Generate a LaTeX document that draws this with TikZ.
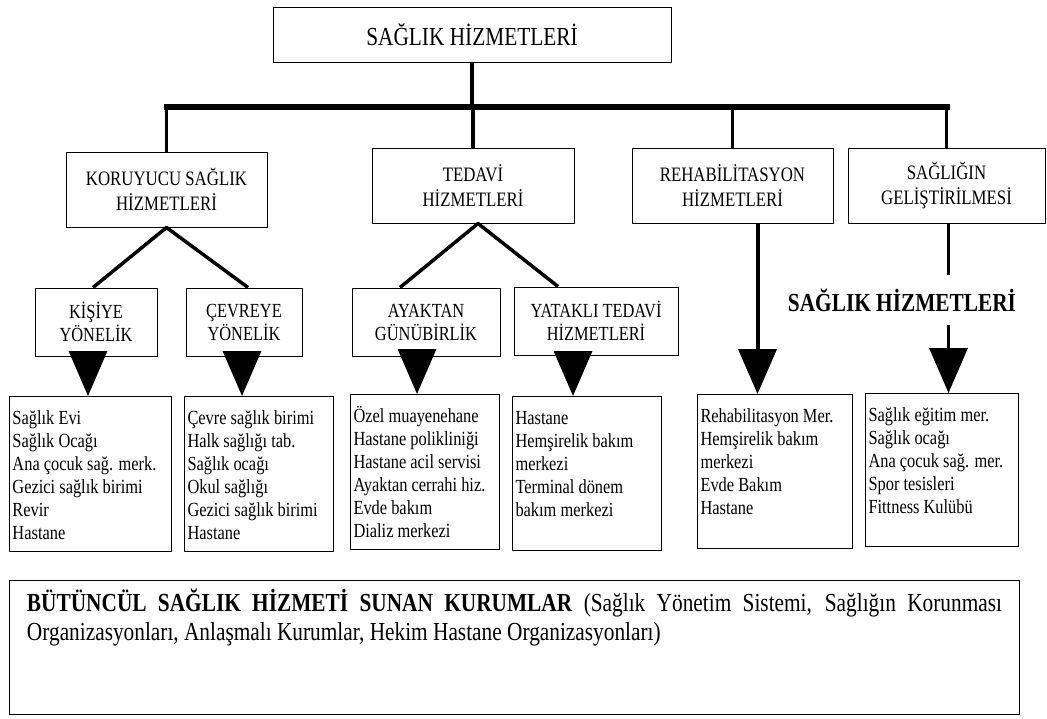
\documentclass[tikz,border=0pt]{standalone}
\usepackage{fontspec}
\setmainfont{Liberation Serif}[FakeStretch=0.82]
\usetikzlibrary{arrows.meta}

\begin{document}
\begin{tikzpicture}[x=1pt, y=1pt,
    box/.style={draw, line width=1pt, align=center, inner sep=0pt},
    topbox/.style={box, font=\fontsize{26}{30}\selectfont},
    onebox/.style={box, minimum height=75, font=\fontsize{20.5}{25}\selectfont},
    twobox/.style={box, minimum height=68, font=\fontsize{20}{23}\selectfont},
    lst/.style={draw, line width=1pt, anchor=north west, align=flush left, inner xsep=3pt,
        inner ysep=0pt, text height=28pt, font=\fontsize{20}{23}\selectfont},
    conn/.style={line width=3.5pt},
    tri/.style={line width=3.5pt, -{Triangle[width=38pt,length=45pt]}}]

    \useasboundingbox (0,0) rectangle (1047,-718);

    % Top box
    \node[topbox, minimum width=398, minimum height=55] (top) at (472,-34.5) {SAĞLIK HİZMETLERİ};

    % First level
    \node[onebox, minimum width=201] (koru) at (166.5,-189.5) {KORUYUCU SAĞLIK\\HİZMETLERİ};
    \node[onebox, minimum width=202] (tedavi) at (473,-185.5) {TEDAVİ\\HİZMETLERİ};
    \node[onebox, minimum width=201] (rehab) at (732.5,-185.5) {REHABİLİTASYON\\HİZMETLERİ};
    \node[onebox, minimum width=197] (gelis) at (946.5,-185.5) {SAĞLIĞIN\\GELİŞTİRİLMESİ};

    % Tree lines
    \coordinate (bus) at (0,-107);
    \draw[conn] (top.south) -- (top.south |- bus);
    \draw[line width=6pt, line cap=rect] (koru.north |- bus) -- (gelis.north |- bus);
    \foreach \n in {koru, tedavi, rehab, gelis}
        \draw[conn] (\n.north |- bus) -- (\n.north);

    % Second level
    \node[twobox, minimum width=122] (kisi) at (96,-322) {KİŞİYE\\YÖNELİK};
    \node[twobox, minimum width=116] (cevre) at (244,-322) {ÇEVREYE\\YÖNELİK};
    \node[twobox, minimum width=148] (ayak) at (426,-322) {AYAKTAN\\GÜNÜBİRLİK};
    \node[twobox, minimum width=164] (yatak) at (596,-321) {YATAKLI TEDAVİ\\HİZMETLERİ};

    \draw[conn, line join=round] ([xshift=-3]kisi.north) -- (koru.south) -- ([xshift=4]cevre.north);
    \draw[conn, line join=round] ([xshift=-26]ayak.north) -- ([xshift=5]tedavi.south) -- ([xshift=-38]yatak.north);

    % Lists
    \node[lst, text width=156, text depth=127] (kisiL) at (9,-396)
        {Sağlık Evi\\Sağlık Ocağı\\Ana çocuk sağ. merk.\\Gezici sağlık birimi\\Revir\\Hastane};
    \node[lst, text width=143, text depth=127] (cevreL) at (184,-396)
        {Çevre sağlık birimi\\Halk sağlığı tab.\\Sağlık ocağı\\Okul sağlığı\\Gezici sağlık birimi\\Hastane};
    \node[lst, text width=143, text depth=127] (ayakL) at (350,-394)
        {Özel muayenehane\\Hastane polikliniği\\Hastane acil servisi\\Ayaktan cerrahi hiz.\\Evde bakım\\Dializ merkezi};
    \node[lst, text width=143, text depth=126] (yatakL) at (512,-396)
        {Hastane\\Hemşirelik bakım\\merkezi\\Terminal dönem\\bakım merkezi};
    \node[lst, text width=149, text depth=126] (rehabL) at (697,-394)
        {Rehabilitasyon Mer.\\Hemşirelik bakım\\merkezi\\Evde Bakım\\Hastane};
    \node[lst, text width=147, text depth=125] (gelisL) at (865,-393)
        {Sağlık eğitim mer.\\Sağlık ocağı\\Ana çocuk sağ. mer.\\Spor tesisleri\\Fittness Kulübü};

    % Arrows
    \foreach \a/\b/\s in {kisi/kisiL/-8, cevre/cevreL/-2, ayak/ayakL/-9, yatak/yatakL/-23}
        \draw[tri] ([xshift=\s]\a.south) -- ([xshift=\s]\a.south |- \b.north);
    \draw[tri, line width=4pt] ([xshift=25]rehab.south) -- ([xshift=25]rehab.south |- rehabL.north);

    % Label on the right arrow
    \node[inner sep=0pt, minimum height=49, font=\bfseries\fontsize{26}{30}\selectfont] (lbl) at (902,-300) {SAĞLIK HİZMETLERİ};
    \draw[conn] ([xshift=2]gelis.south) -- ([xshift=2]gelis.south |- lbl.north);
    \draw[tri] ([xshift=2]gelis.south |- lbl.south) -- ([xshift=2]gelis.south |- gelisL.north);

    % Bottom box
    \node[draw, line width=1pt, anchor=north west, text width=975, align=justify, inner xsep=17.5pt,
        inner ysep=0pt, text height=31pt, text depth=103pt, font=\fontsize{26}{29}\selectfont] (kurum) at (9,-580)
        {\textbf{BÜTÜNCÜL SAĞLIK HİZMETİ SUNAN KURUMLAR} (Sağlık Yönetim Sistemi, Sağlığın Korunması\linebreak
        Organizasyonları, Anlaşmalı Kurumlar, Hekim Hastane Organizasyonları)};
\end{tikzpicture}
\end{document}
